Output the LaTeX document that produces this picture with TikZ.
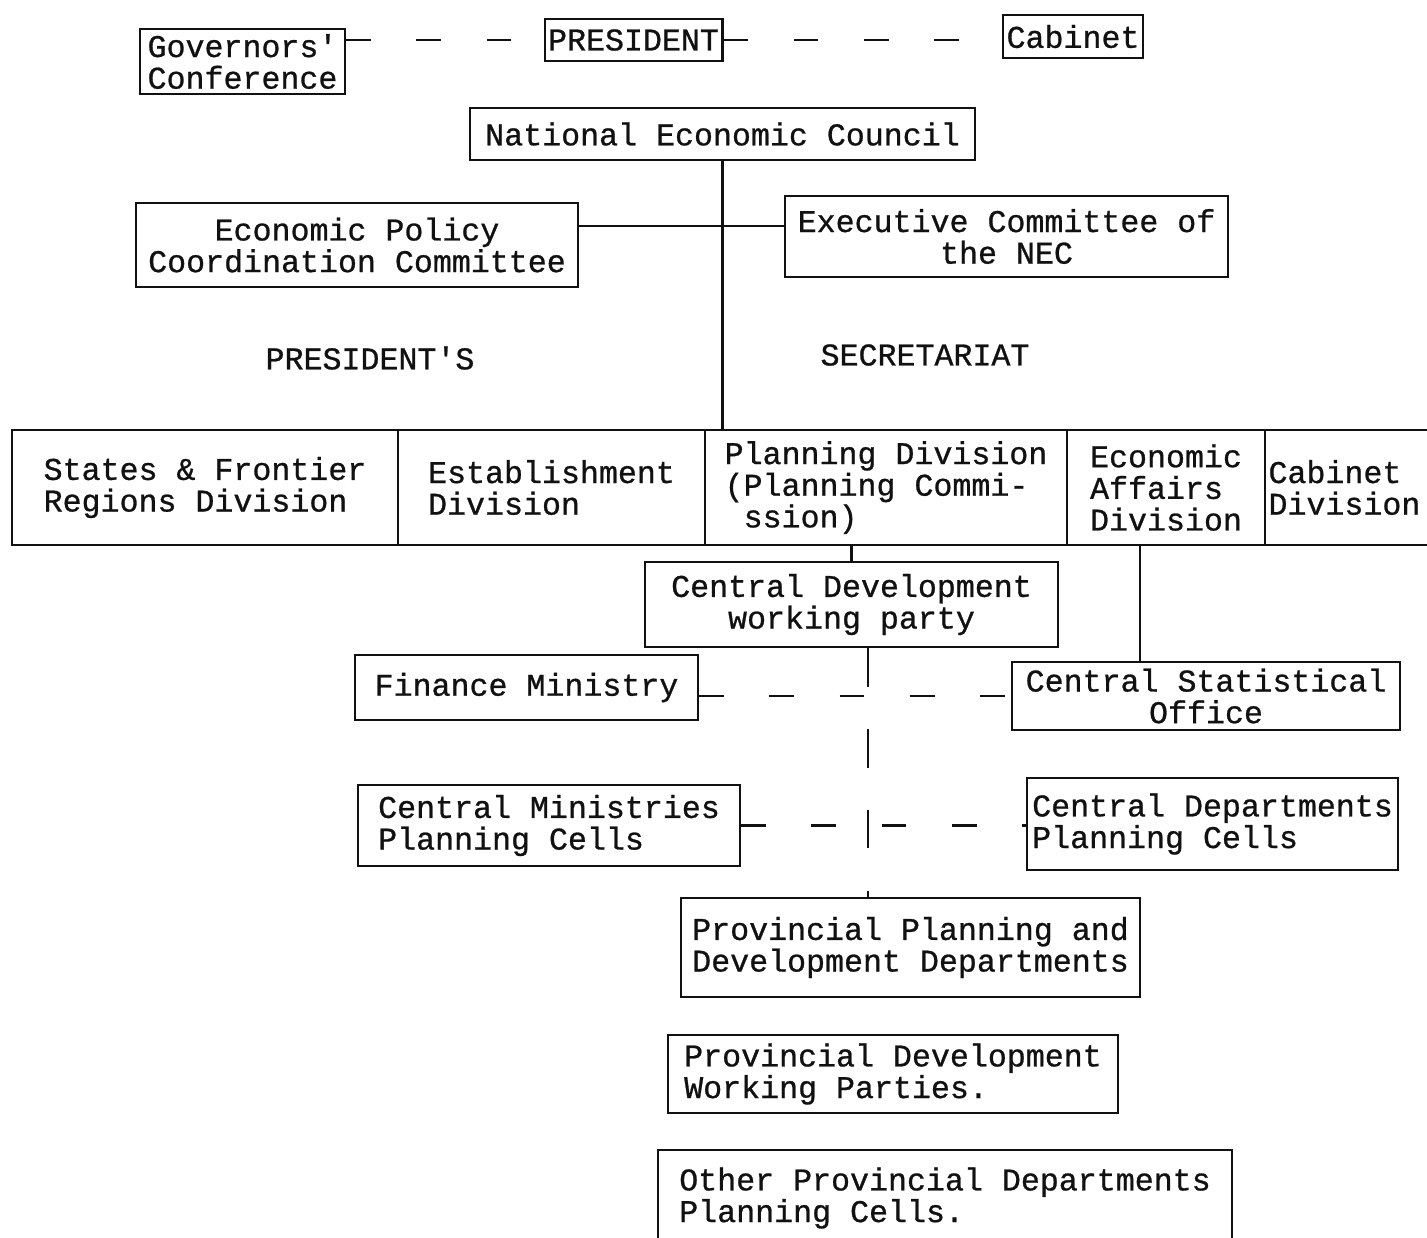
\documentclass[tikz,border=0pt]{standalone}
\usepackage{fontspec}
\usepackage{xcolor}
\usepackage{tikz}
\newfontfamily\typefont{Liberation Mono}[FakeBold=0.8]
\definecolor{tinta}{HTML}{111111}
\newcommand{\typed}{\typefont\fontsize{9pt}{9pt}\selectfont}

\begin{document}
\begin{tikzpicture}[
    every node/.style={font=\typed, text=tinta},
    unit/.style={draw=tinta, line width=0.6pt, inner xsep=1pt, inner ysep=0pt},
    link/.style={draw=tinta, line width=0.6pt},
    loose/.style={link, dash pattern=on 7pt off 13pt}
]
\fill[white] (0,0) rectangle (14.27,-12.37);
\useasboundingbox (0,0) rectangle (14.27,-12.37);

\node[unit, align=left, minimum width=2.05cm, minimum height=0.65cm] (gov) at (2.425,-0.615) {Governors'\\Conference};
\node[unit, minimum width=1.77cm, minimum height=0.42cm] (pres) at (6.335,-0.40) {PRESIDENT};
\node[unit, minimum width=1.40cm, minimum height=0.43cm] (cab) at (10.73,-0.365) {Cabinet};
\node[unit, minimum width=5.05cm, minimum height=0.52cm] (nec) at (7.225,-1.34) {National Economic Council};

\node[unit, align=center, minimum width=4.42cm, minimum height=0.84cm] (epcc) at (3.57,-2.45) {Economic Policy\\Coordination Committee};
\node[unit, align=center, minimum width=4.43cm, minimum height=0.81cm] (exec) at (10.065,-2.365) {Executive Committee of\\the NEC};
\node (pslab) at (3.70,-3.58) {PRESIDENT'S};
\node (seclab) at (9.25,-3.55) {SECRETARIAT};

\node[unit, align=left, minimum width=3.86cm, minimum height=1.15cm] (sfr) at (2.05,-4.875) {States \& Frontier\\Regions Division};
\node[unit, align=left, minimum width=3.07cm, minimum height=1.15cm] (est) at (5.515,-4.875) {Establishment\\Division};
\node[unit, align=left, minimum width=3.62cm, minimum height=1.15cm] (plan) at (8.86,-4.875) {Planning Division\\(Planning Commi-\\~ssion)};
\node[unit, align=left, minimum width=1.98cm, minimum height=1.15cm] (ead) at (11.66,-4.875) {Economic\\Affairs\\Division};
\node[unit, align=left, text width=1.78cm, minimum width=1.85cm, minimum height=1.15cm] (cabd) at (13.575,-4.875) {Cabinet\\Division};

\node[unit, align=center, minimum width=4.13cm, minimum height=0.85cm] (cdwp) at (8.515,-6.045) {Central Development\\working party};
\node[unit, minimum width=3.43cm, minimum height=0.65cm] (fin) at (5.265,-6.875) {Finance Ministry};
\node[unit, align=center, minimum width=3.88cm, minimum height=0.68cm] (cso) at (12.06,-6.96) {Central Statistical\\Office};
\node[unit, align=left, minimum width=3.82cm, minimum height=0.81cm] (cmpc) at (5.49,-8.255) {Central Ministries\\Planning Cells};
\node[unit, align=left, minimum width=3.71cm, minimum height=0.92cm] (cdpc) at (12.125,-8.24) {Central Departments\\Planning Cells};

\node[unit, align=left, minimum width=4.59cm, minimum height=0.99cm] (ppdd) at (9.105,-9.475) {Provincial Planning and\\Development Departments};
\node[unit, align=left, minimum width=4.50cm, minimum height=0.78cm] (pdwp) at (8.93,-10.74) {Provincial Development\\Working Parties.};
\node[unit, align=left, minimum width=5.74cm, minimum height=0.96cm] (opdpc) at (9.45,-11.98) {Other Provincial Departments\\Planning Cells.};

\coordinate (hub) at (7.225,-2.26);
\coordinate (spine) at (8.68,-6.47);

\draw[loose] (pres.west -| gov.east) -- (pres.west);
\draw[loose] (pres.east) -- (pres.east -| cab.west);
\draw[link] (nec.south) -- (nec.south |- plan.north);
\draw[link] (epcc.east |- hub) -- (exec.west |- hub);
\draw[link] (cdwp.north) -- (cdwp.north |- plan.south);
\draw[link] ([xshift=-0.26cm]ead.south) -- ([xshift=-0.26cm]ead.south |- cso.north);
\draw[link, dash pattern=on 11pt off 12pt] (spine |- cdwp.south) -- (spine |- ppdd.north);
\draw[loose] (fin.east |- cso.west) -- (cso.west);
\draw[loose] (cmpc.east) -- (cmpc.east -| cdpc.west);
\end{tikzpicture}
\end{document}
